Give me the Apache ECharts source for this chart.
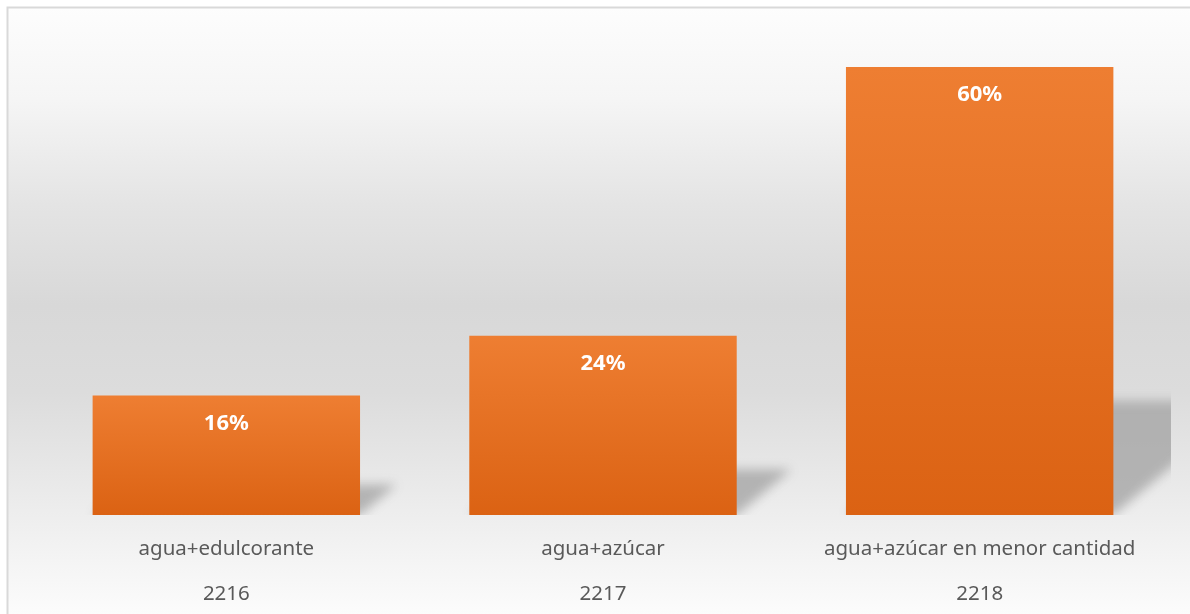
<!DOCTYPE html>
<html>
<head>
<meta charset="utf-8">
<script src="https://cdn.jsdelivr.net/npm/echarts@6/dist/echarts.min.js"></script>
<style>
html,body{margin:0;padding:0;background:#fff;}
#c{width:1190px;height:614px;}
</style>
</head>
<body>
<div id="c"></div>
<script>
var categories = ['agua+edulcorante', 'agua+azúcar', 'agua+azúcar en menor cantidad'];
var codes = ['2216', '2217', '2218'];
var values = [16, 24, 60];

var chart = echarts.init(document.getElementById('c'));

var OFF = 3000;

var option = {
  animation: false,
  graphic: [{
    type: 'rect', z: -10, silent: true,
    shape: {x: 7.5, y: 7.5, width: 1200, height: 620},
    style: {
      fill: new echarts.graphic.LinearGradient(0, 0, 0, 1, [
        {offset: 0, color: '#fdfdfd'},
        {offset: 0.15, color: '#f5f5f5'},
        {offset: 0.32, color: '#e4e4e4'},
        {offset: 0.48, color: '#d8d8d8'},
        {offset: 0.62, color: '#dcdcdc'},
        {offset: 0.8, color: '#ececec'},
        {offset: 0.98, color: '#fcfcfc'},
        {offset: 1, color: '#fefefe'}
      ]),
      stroke: '#d9d9d9', lineWidth: 2
    }
  }],
  grid: {left: 38, right: 22, top: 67, bottom: 99, containLabel: false},
  xAxis: {
    type: 'category',
    data: categories,
    axisLine: {show: false},
    axisTick: {show: false},
    axisLabel: {
      interval: 0,
      margin: 12,
      formatter: function (v, i) { return '{a|' + v + '}\n{b|' + codes[i] + '}'; },
      rich: {
        a: {fontFamily: 'Noto Sans', fontSize: 20.5, color: '#595959', lineHeight: 45},
        b: {fontFamily: 'Noto Sans', fontSize: 20.5, color: '#595959', lineHeight: 45}
      }
    }
  },
  yAxis: {
    type: 'value', min: 0, max: 60, show: false,
    splitLine: {show: false}
  },
  series: [{
    type: 'custom',
    z: 1,
    silent: true,
    data: values.map(function (v, i) { return [i, v]; }),
    renderItem: function (params, api) {
      var cs = params.coordSys;
      var base = api.coord([api.value(0), 0]);
      var top = api.coord([api.value(0), api.value(1)]);
      var bw = api.size([1, 0])[0] * 0.71;
      var xL = base[0] - bw / 2, xR = base[0] + bw / 2;
      var h = base[1] - top[1];
      var hs = h * 0.255;
      var k = 1.2;
      var pts = [[xL, base[1]], [xR, base[1]], [xR + k * hs, base[1] - hs], [xL + k * hs, base[1] - hs]];
      var shifted = pts.map(function (p) { return [p[0] - OFF, p[1]]; });
      return {
        type: 'group',
        clipPath: {
          type: 'rect',
          shape: {x: cs.x - 40, y: cs.y - 40, width: cs.width + 43, height: cs.height + 40}
        },
        children: [{
          type: 'polygon',
          shape: {points: shifted},
          style: {
            fill: '#000',
            shadowBlur: 11,
            shadowOffsetX: OFF,
            shadowOffsetY: 0,
            shadowColor: 'rgba(165,165,165,0.8)'
          }
        }]
      };
    }
  }, {
    type: 'bar',
    z: 5,
    data: values,
    barCategoryGap: '29%',
    itemStyle: {
      color: new echarts.graphic.LinearGradient(0, 0, 0, 1, [
        {offset: 0, color: '#ee7e32'},
        {offset: 1, color: '#db6213'}
      ])
    },
    label: {
      show: true,
      position: 'insideTop',
      distance: 17,
      formatter: '{c}%',
      color: '#ffffff',
      fontFamily: 'Noto Sans',
      fontWeight: 'bold',
      fontSize: 22
    }
  }]
};
chart.setOption(option);
</script>
</body>
</html>
